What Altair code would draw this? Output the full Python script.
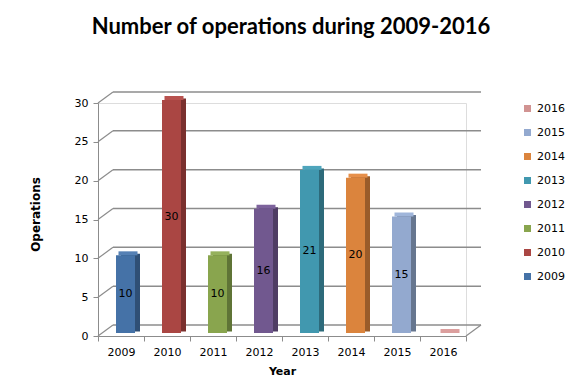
import altair as alt
import pandas as pd

years = ["2009", "2010", "2011", "2012", "2013", "2014", "2015", "2016"]
operations = [10, 30, 10, 16, 21, 20, 15, 0]
front_colors = ["#4572A7", "#AA4643", "#89A54E", "#71588F", "#4198AF", "#DB843D", "#93A9CF", "#D19392"]
side_colors = ["#2F4F75", "#7A302E", "#5F7436", "#4F3D64", "#2D6A7A", "#9A5C2A", "#66768F", "#926665"]
top_colors = ["#5580B4", "#B8524F", "#95B15C", "#7D639C", "#4EA5BC", "#E68F4A", "#9FB5DA", "#DC9F9E"]
grid_values = [0, 5, 10, 15, 20, 25, 30]

df = pd.DataFrame({"Year": years, "Operations": operations,
                   "front": front_colors, "side": side_colors, "top": top_colors})
grid_df = pd.DataFrame({"v": grid_values})

FONT = "DejaVu Sans"
W, H = 368, 233
DX, DY = 15, 11

yscale = alt.Scale(domain=[0, 30], nice=False)
xscale = alt.Scale(domain=years, paddingInner=0, paddingOuter=0)

y_axis = alt.Axis(title="Operations", values=grid_values, grid=False, tickSize=5,
                  labelOverlap=False,
                  domainColor="#8c8c8c", tickColor="#8c8c8c", labelPadding=5,
                  labelFont=FONT, labelFontSize=11, labelColor="#000",
                  titleFont=FONT, titleFontSize=12, titleFontWeight="bold",
                  titleColor="#000", titleX=-63, titleY=111,
                  titleBaseline="middle", titleAlign="center")
x_axis = alt.Axis(title="Year", labelAngle=0, tickBand="extent", tickSize=5,
                  domainColor="#8c8c8c", tickColor="#8c8c8c", labelPadding=5,
                  labelFont=FONT, labelFontSize=11, labelColor="#000",
                  titleFont=FONT, titleFontSize=11, titleFontWeight="bold",
                  titleColor="#000", titleY=35, titleBaseline="middle")


def yq(field):
    return alt.Y(field, scale=yscale, axis=y_axis)


def xn():
    return alt.X("Year:N", scale=xscale, sort=years, axis=x_axis)


back_grid = alt.Chart(grid_df).mark_rule(color="#8c8c8c", strokeWidth=1.5, yOffset=-DY).encode(
    y=yq("v:Q"),
    x=alt.value(DX), x2=alt.value(W + DX),
)
diag = alt.Chart(grid_df).mark_rule(color="#8c8c8c", strokeWidth=1.2, y2Offset=-DY).encode(
    y=yq("v:Q"), y2="v:Q",
    x=alt.value(0), x2=alt.value(DX),
)
floor_right = alt.Chart(grid_df).transform_filter("datum.v == 0").mark_rule(
    color="#8c8c8c", strokeWidth=1.2, y2Offset=-DY).encode(
    y=yq("v:Q"), y2="v:Q",
    x=alt.value(W), x2=alt.value(W + DX),
)

side = alt.Chart(df).mark_bar(width=19, xOffset=9.5, yOffset=-4.5, y2Offset=-4.5).encode(
    x=xn(),
    y=yq("Operations:Q"),
    y2=alt.datum(0),
    color=alt.Color("side:N", scale=None, legend=None),
)
top = alt.Chart(df).mark_bar(width=19, xOffset=7, yOffset=-7, y2Offset=-3).encode(
    x=xn(),
    y=yq("Operations:Q"),
    y2="Operations:Q",
    color=alt.Color("top:N", scale=None, legend=None),
)
front = alt.Chart(df).mark_bar(width=19, xOffset=4.5, yOffset=-3, y2Offset=-3).encode(
    x=xn(),
    y=yq("Operations:Q"),
    y2=alt.datum(0),
    color=alt.Color("Year:N",
                    scale=alt.Scale(domain=years[::-1], range=front_colors[::-1]),
                    legend=alt.Legend(title=None, orient="none", legendX=424, legendY=0,
                                      symbolType="square", symbolSize=49, symbolStrokeWidth=0,
                                      labelFont=FONT, labelFontSize=11, labelColor="#000",
                                      rowPadding=12, labelOffset=4)),
)
labels = alt.Chart(df).transform_filter("datum.Operations > 0").transform_calculate(
    mid="datum.Operations / 2").mark_text(font=FONT, fontSize=11, color="#000",
                                          xOffset=4.5, yOffset=-3).encode(
    x=xn(),
    y=yq("mid:Q"),
    text="Operations:Q",
)

chart = alt.layer(back_grid, diag, floor_right, side, top, front, labels).resolve_scale(
    color="independent"
).properties(
    width=W, height=H,
    autosize=alt.AutoSizeParams(type="none"),
    padding={"left": 90, "top": 95, "right": 102, "bottom": 40},
    title=alt.TitleParams("Number of operations during 2009-2016", font="Lato", fontSize=22,
                          fontWeight="bold", color="#000", anchor="middle", frame="group",
                          dx=9, offset=52),
).configure_view(stroke=None).configure(background="white")

chart.save("out.html", embed_options={"renderer": "svg", "actions": False})
